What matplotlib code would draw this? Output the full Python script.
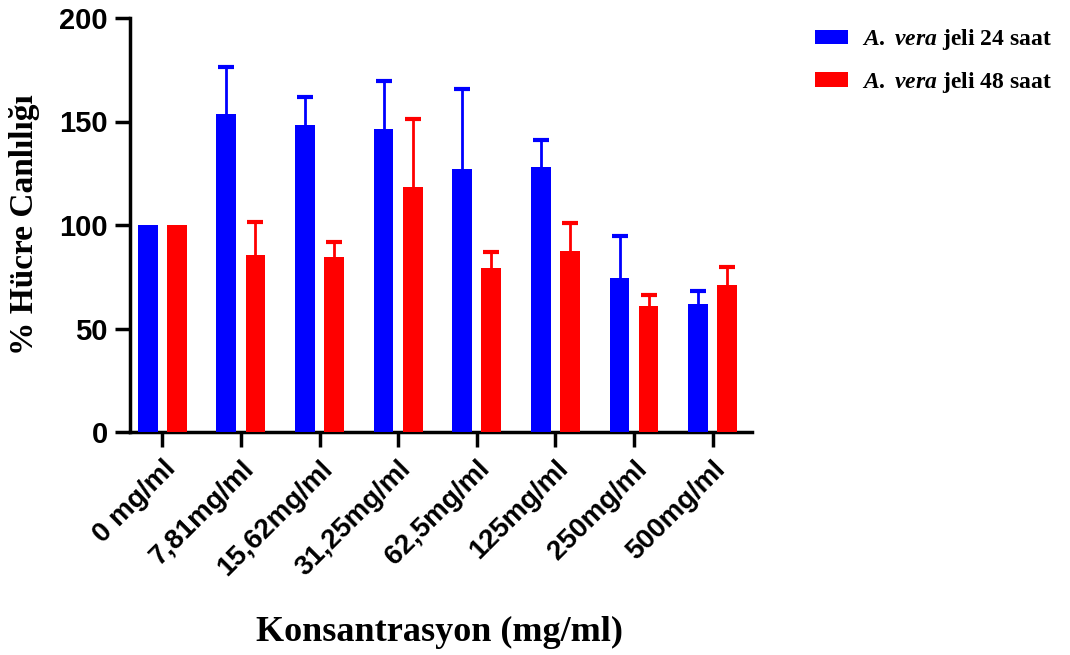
import matplotlib
matplotlib.use("Agg")
import matplotlib.pyplot as plt
import numpy as np

categories = ["0 mg/ml", "7,81mg/ml", "15,62mg/ml", "31,25mg/ml",
              "62,5mg/ml", "125mg/ml", "250mg/ml", "500mg/ml"]
vals_24 = [100, 153.6, 148.3, 146.2, 126.9, 128.2, 74.2, 61.8]
err_24 = [0, 22.9, 13.7, 23.5, 38.6, 12.8, 20.6, 6.5]
vals_48 = [100, 85.5, 84.7, 118.5, 79.1, 87.6, 60.9, 71.0]
err_48 = [0, 15.8, 6.9, 32.9, 8.0, 13.2, 5.3, 8.6]
yticks = [0, 50, 100, 150, 200]

plt.rcParams['mathtext.fontset'] = 'custom'
plt.rcParams['mathtext.it'] = 'Liberation Serif:italic:bold'
plt.rcParams['mathtext.rm'] = 'Liberation Serif:bold'

fig = plt.figure(figsize=(10.7, 6.55), dpi=100)
ax = fig.add_axes([130/1070, 1-432/655, (752-130)/1070, (432-18)/655])

x = np.arange(len(categories))
w = 0.25
off = 0.185


def draw_err(xs, vals, errs, color):
    xs = np.asarray(xs)
    vals = np.asarray(vals, float)
    errs = np.asarray(errs, float)
    m = errs > 0
    ax.vlines(xs[m], vals[m], vals[m] + errs[m], color=color, lw=2, zorder=2)
    ax.plot(xs[m], vals[m] + errs[m], ls='none', marker='_', ms=11, mew=3,
            color=color, zorder=2)


ax.bar(x - off, vals_24, w, color='#0000ff',
       label=r'$\mathit{A.}$ $\mathit{vera}$ jeli 24 saat', zorder=3)
ax.bar(x + off, vals_48, w, color='#ff0000',
       label=r'$\mathit{A.}$ $\mathit{vera}$ jeli 48 saat', zorder=3)
draw_err(x - off, vals_24, err_24, '#0000ff')
draw_err(x + off, vals_48, err_48, '#ff0000')

ax.set_xlim(-0.41, 7.5)
ax.set_ylim(0, 200)
ax.set_yticks(yticks)
ax.set_xticks(x)
ax.set_xticklabels(categories, rotation=45, ha='right', rotation_mode='anchor',
                   fontsize=20, fontweight='bold', family='Liberation Sans')
for lab in ax.get_yticklabels():
    lab.set_fontsize(21)
    lab.set_fontweight('bold')
    lab.set_family('Liberation Sans')

for s in ['top', 'right']:
    ax.spines[s].set_visible(False)
for s in ['left', 'bottom']:
    ax.spines[s].set_linewidth(2.5)
ax.tick_params(axis='both', width=2.5, length=11, color='black')
ax.tick_params(axis='x', pad=6)
ax.tick_params(axis='y', pad=5)

fig.text(25/1070, 1-225/655, '% Hücre Canlılığı', fontsize=24, fontweight='bold',
         family='Liberation Serif', ha='center', va='center', rotation=90)
fig.text(440/1070, 1-632/655, 'Konsantrasyon (mg/ml)', fontsize=26, fontweight='bold',
         family='Liberation Serif', ha='center', va='center')

leg = fig.legend(loc='upper left', bbox_to_anchor=(794/1070, 1-6/655), frameon=False,
                 prop={'family': 'Liberation Serif', 'weight': 'bold', 'size': 17},
                 handlelength=1.4, handleheight=0.55, handletextpad=0.6, labelspacing=0.75)

fig.savefig('out.png', dpi=100)
